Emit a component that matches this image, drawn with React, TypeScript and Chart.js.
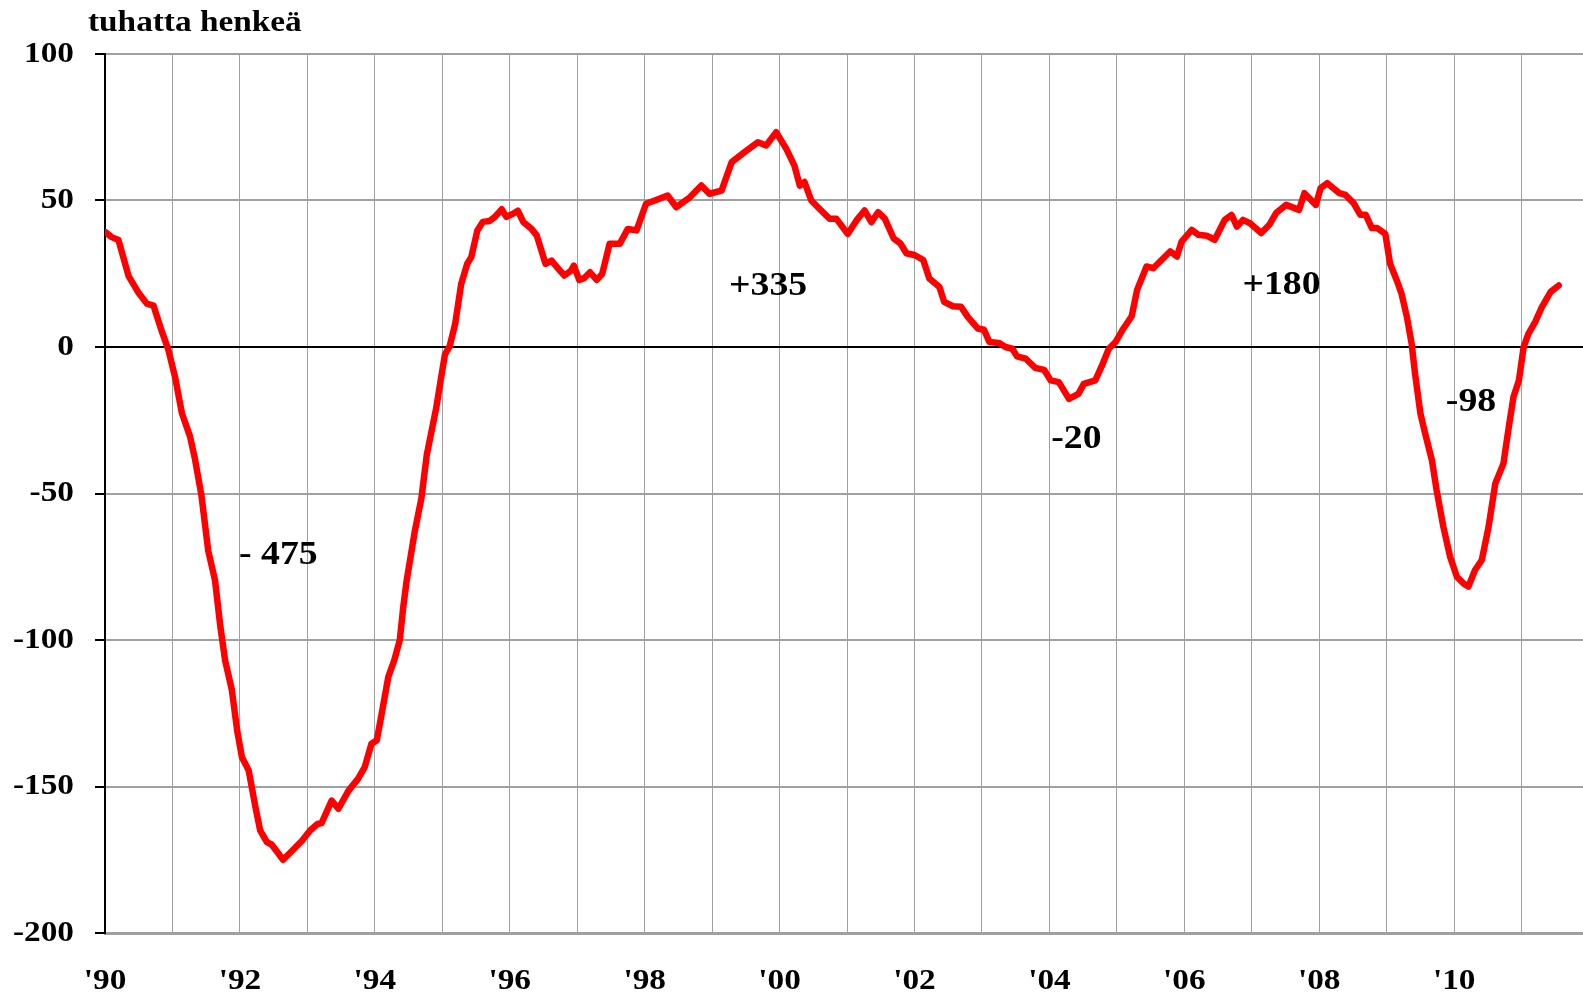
import React, { useEffect, useRef } from "react";
import { Chart, registerables } from "chart.js";

Chart.register(...registerables);

const years: number[] = [
  1990.0, 1990.1, 1990.2, 1990.35, 1990.5, 1990.62, 1990.72, 1990.84, 1990.94,
  1991.04, 1991.14, 1991.26, 1991.33, 1991.43, 1991.53, 1991.63, 1991.71, 1991.78, 1991.88, 1991.96,
  1992.03, 1992.13, 1992.23, 1992.3, 1992.4, 1992.47, 1992.64, 1992.77, 1992.92,
  1993.04, 1993.15, 1993.21, 1993.36, 1993.46, 1993.61, 1993.75, 1993.85, 1993.95,
  1994.03, 1994.12, 1994.2, 1994.29, 1994.37, 1994.42, 1994.47, 1994.59, 1994.69, 1994.77, 1994.82, 1994.91, 1994.99,
  1995.04, 1995.11, 1995.19, 1995.28, 1995.37, 1995.43, 1995.52, 1995.6, 1995.7, 1995.78, 1995.88, 1995.95,
  1996.05, 1996.12, 1996.2, 1996.32, 1996.4, 1996.53, 1996.62, 1996.72, 1996.81, 1996.91, 1996.95,
  1997.03, 1997.11, 1997.19, 1997.29, 1997.37, 1997.48, 1997.63, 1997.75, 1997.88,
  1998.02, 1998.15, 1998.34, 1998.47, 1998.67, 1998.84, 1998.96,
  1999.14, 1999.29, 1999.48, 1999.68, 1999.8, 1999.95,
  2000.1, 2000.22, 2000.3, 2000.37, 2000.47, 2000.59, 2000.74, 2000.84,
  2001.01, 2001.14, 2001.26, 2001.36, 2001.46, 2001.56, 2001.69, 2001.79, 2001.88,
  2002.0, 2002.13, 2002.22, 2002.37, 2002.44, 2002.57, 2002.69, 2002.79, 2002.94,
  2003.03, 2003.11, 2003.25, 2003.35, 2003.45, 2003.52, 2003.65, 2003.79, 2003.92,
  2004.02, 2004.14, 2004.29, 2004.43, 2004.51, 2004.68, 2004.78, 2004.88, 2004.98,
  2005.08, 2005.22, 2005.3, 2005.44, 2005.54, 2005.64, 2005.79, 2005.89, 2005.96,
  2006.11, 2006.21, 2006.33, 2006.45, 2006.6, 2006.7, 2006.78, 2006.87, 2006.97,
  2007.14, 2007.26, 2007.36, 2007.51, 2007.7, 2007.78, 2007.95,
  2008.02, 2008.12, 2008.3, 2008.39, 2008.51, 2008.61, 2008.69, 2008.78, 2008.86, 2008.98,
  2009.05, 2009.15, 2009.22, 2009.3, 2009.37, 2009.42, 2009.5, 2009.57, 2009.67, 2009.74, 2009.84, 2009.94,
  2010.04, 2010.14, 2010.21, 2010.31, 2010.41, 2010.51, 2010.61, 2010.73, 2010.81, 2010.88, 2010.96,
  2011.03, 2011.1, 2011.2, 2011.3, 2011.43, 2011.55,
];

const values: number[] = [
  39.3, 37.5, 36.5, 24.2, 18.4, 14.8, 14.1, 5.5, -1,
  -10.4, -22.6, -30.5, -37.8, -50.7, -69.5, -79.5, -95.4, -106.9, -117, -131,
  -140, -144.5, -157, -165, -169, -169.8, -175, -172, -168.5,
  -165, -162.8, -162.5, -154.8, -157.6, -151.4, -147.4, -143.4, -135.4,
  -134.2, -122.8, -112.6, -106.8, -100, -89, -80, -63.2, -51.7, -36.8, -31.1, -20.8, -9.4,
  -2.5, 0.3, 7.8, 21.5, 28.4, 30.7, 39.8, 42.7, 43, 44.4, 47, 44.4,
  45.5, 46.5, 42.7, 40.4, 38.1, 28.4, 29.5, 26.7, 24.4, 26.1, 27.8,
  22.9, 23.6, 25.5, 22.9, 24.9, 35.2, 35.2, 40.3, 39.8,
  48.9, 50, 51.7, 47.7, 51.1, 55.1, 52.3,
  53.4, 63.1, 66.5, 69.9, 68.8, 73.3,
  67.6, 61.9, 55.1, 56.3, 50, 47.2, 43.8, 43.8,
  38.6, 43.2, 46.6, 42.6, 46, 43.8, 37.1, 35.4, 32,
  31.4, 29.7, 23.4, 20.5, 15.4, 13.9, 13.7, 10.3, 6.3,
  5.9, 1.7, 1.4, 0, -0.6, -3.2, -4, -7.1, -7.8,
  -11.4, -12, -17.7, -16, -12.6, -11.4, -6.3, -0.6, 1.7,
  5.7, 10.5, 19.5, 27.5, 26.9, 29.2, 32.6, 30.9, 36,
  40, 38.3, 38, 36.6, 43.4, 45.1, 41.1, 43.4, 42.3,
  38.9, 41.7, 45.7, 48.5, 46.8, 52.5, 48.5,
  54.2, 55.9, 52.5, 51.9, 49.1, 45.1, 45.1, 40.6, 40.6, 38.6,
  28.4, 22.7, 18.2, 10.2, 1.1, -9.1, -22.7, -29.5, -38.6, -48.9, -61.4, -71.6,
  -78.4, -80.7, -81.8, -76.1, -72.7, -61.4, -46.6, -39.8, -27.3, -17, -11.4,
  0, 4.5, 8.5, 13.6, 18.8, 21,
];

const labelYears: number[] = [1990, 1992, 1994, 1996, 1998, 2000, 2002, 2004, 2006, 2008, 2010];
const xTickLabels: string[] = ["'90", "'92", "'94", "'96", "'98", "'00", "'02", "'04", "'06", "'08", "'10"];
const yTickValues: number[] = [100, 50, 0, -50, -100, -150, -200];
const yTickLabels: string[] = ["100", "50", "0", "-50", "-100", "-150", "-200"];

const annotationTexts: string[] = ["- 475", "+335", "-20", "+180", "-98"];
const annotationYears: number[] = [1992.57, 1999.83, 2004.4, 2007.44, 2010.25];
const annotationValues: number[] = [-71, 20.8, -31.4, 21, -19];

const titleText = "tuhatta henkeä";
const FONT = "'Liberation Serif', 'Times New Roman', serif";
const STRETCH = 1.11;

function drawStretched(ctx: CanvasRenderingContext2D, text: string, x: number, y: number, align: CanvasTextAlign) {
  ctx.save();
  ctx.translate(x, y);
  ctx.scale(STRETCH, 1);
  ctx.textAlign = align;
  ctx.fillText(text, 0, 0);
  ctx.restore();
}

export default function App() {
  const ref = useRef<HTMLCanvasElement | null>(null);

  useEffect(() => {
    if (!ref.current) return;
    const textPlugin = {
      id: "texts",
      afterDatasetsDraw(chart: any) {
        const ctx = chart.ctx as CanvasRenderingContext2D;
        const xs = chart.scales.x;
        const ys = chart.scales.y;
        const area = chart.chartArea;
        ctx.save();
        ctx.fillStyle = "#000";

        ctx.font = `bold 30px ${FONT}`;
        ctx.textBaseline = "middle";
        yTickValues.forEach((v, i) => {
          drawStretched(ctx, yTickLabels[i], area.left - 31, ys.getPixelForValue(v), "right");
        });
        labelYears.forEach((yr, i) => {
          drawStretched(ctx, xTickLabels[i], xs.getPixelForValue(yr), area.bottom + 48, "center");
        });

        ctx.font = `bold 34px ${FONT}`;
        annotationTexts.forEach((t, i) => {
          drawStretched(ctx, t, xs.getPixelForValue(annotationYears[i]), ys.getPixelForValue(annotationValues[i]), "center");
        });

        ctx.font = `bold 30px ${FONT}`;
        ctx.textBaseline = "alphabetic";
        drawStretched(ctx, titleText, area.left - 17, 31, "left");
        ctx.restore();
      },
    };

    const chart = new Chart(ref.current, {
      type: "line",
      data: {
        datasets: [
          {
            data: years.map((x, i) => ({ x, y: values[i] })),
            borderColor: "#ff0000",
            borderWidth: 6.5,
            pointRadius: 0,
            tension: 0,
            fill: false,
            borderJoinStyle: "round",
            borderCapStyle: "round",
          } as any,
        ],
      },
      options: {
        animation: false,
        responsive: false,
        maintainAspectRatio: false,
        layout: { padding: { top: 54, right: 0, left: 0, bottom: 0 } },
        plugins: { legend: { display: false }, tooltip: { enabled: false }, title: { display: false } },
        scales: {
          x: {
            type: "linear",
            min: 1990,
            max: 2011.91,
            afterFit: (s: any) => {
              s.height = 64;
            },
            ticks: { stepSize: 1, includeBounds: false, autoSkip: false, maxRotation: 0, display: false },
            grid: { color: "#a0a0a0", lineWidth: 1, drawTicks: false },
            border: { color: "#a0a0a0", width: 3 },
          },
          y: {
            type: "linear",
            min: -200,
            max: 100,
            afterFit: (s: any) => {
              s.width = 105;
            },
            ticks: { stepSize: 50, display: false },
            grid: {
              color: (c: any) => (c.tick && c.tick.value === 0 ? "#000" : "#a0a0a0"),
              lineWidth: 2,
              tickLength: 10,
              tickColor: "#000",
              tickWidth: 2,
            },
            border: { color: "#000", width: 2 },
          },
        },
      },
      plugins: [textPlugin],
    });
    return () => chart.destroy();
  }, []);

  return (
    <div style={{ position: "fixed", left: 0, top: 0, width: 1583, height: 997, background: "#fff" }}>
      <canvas ref={ref} width={1583} height={997} style={{ width: 1583, height: 997, display: "block" }} />
    </div>
  );
}
